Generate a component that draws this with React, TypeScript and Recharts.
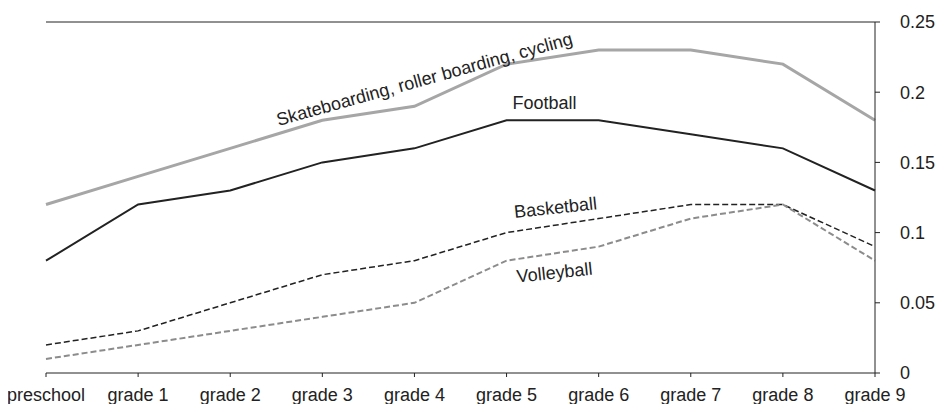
import { LineChart, Line, XAxis, YAxis, ReferenceLine } from "recharts";

const grades = ["preschool", "grade 1", "grade 2", "grade 3", "grade 4", "grade 5", "grade 6", "grade 7", "grade 8", "grade 9"];
const skating = [0.12, 0.14, 0.16, 0.18, 0.19, 0.22, 0.23, 0.23, 0.22, 0.18];
const football = [0.08, 0.12, 0.13, 0.15, 0.16, 0.18, 0.18, 0.17, 0.16, 0.13];
const basketball = [0.02, 0.03, 0.05, 0.07, 0.08, 0.1, 0.11, 0.12, 0.12, 0.09];
const volleyball = [0.01, 0.02, 0.03, 0.04, 0.05, 0.08, 0.09, 0.11, 0.12, 0.08];
const yTicks = [0, 0.05, 0.1, 0.15, 0.2, 0.25];

const FONT = "'Liberation Sans', Arial, sans-serif";
const INK = "#222";

const data = grades.map((g, i) => ({
    grade: g,
    skating: skating[i],
    football: football[i],
    basketball: basketball[i],
    volleyball: volleyball[i],
}));

// label drawn next to one point of a series, shifted and turned
function seriesLabel(text: string, atIndex: number, dx: number, dy: number, angle: number) {
    return (props: any) => {
        if (props.index !== atIndex) return null;
        const cx = props.x + dx;
        const cy = props.y + dy;
        return (
            <text
                x={cx}
                y={cy}
                textAnchor="middle"
                dominantBaseline="central"
                fontFamily={FONT}
                fontSize={18}
                fill={INK}
                transform={`rotate(${angle} ${cx} ${cy})`}
            >
                {text}
            </text>
        );
    };
}

export default function App() {
    return (
        <div style={{ margin: -8, width: 946, height: 412 }}>
            <LineChart width={946} height={412} data={data} margin={{ top: 22, right: 11, bottom: 9, left: 46 }}>
                <XAxis
                    dataKey="grade"
                    height={30}
                    tickSize={4}
                    tickMargin={11}
                    tick={{ fontSize: 18, fontFamily: FONT, fill: INK }}
                    axisLine={{ stroke: INK }}
                    tickLine={{ stroke: INK }}
                    interval={0}
                />
                <YAxis yAxisId="left" orientation="left" width={0} tick={false} tickLine={false} axisLine={{ stroke: INK }} domain={[0, 0.25]} />
                <YAxis
                    yAxisId="right"
                    orientation="right"
                    width={60}
                    domain={[0, 0.25]}
                    ticks={yTicks}
                    tickSize={5}
                    tickMargin={20}
                    tick={{ fontSize: 18, fontFamily: FONT, fill: INK, textAnchor: "start" }}
                    axisLine={{ stroke: INK }}
                    tickLine={{ stroke: INK }}
                />
                <ReferenceLine yAxisId="right" y={0.25} stroke={INK} strokeWidth={1} />
                <Line
                    yAxisId="right"
                    dataKey="skating"
                    type="linear"
                    stroke="#a6a6a6"
                    strokeWidth={3}
                    dot={false}
                    isAnimationActive={false}
                    label={seriesLabel("Skateboarding, roller boarding, cycling", 4, 10, -27, -15.5)}
                />
                <Line
                    yAxisId="right"
                    dataKey="football"
                    type="linear"
                    stroke={INK}
                    strokeWidth={2}
                    dot={false}
                    isAnimationActive={false}
                    label={seriesLabel("Football", 5, 38, -17, 0)}
                />
                <Line
                    yAxisId="right"
                    dataKey="basketball"
                    type="linear"
                    stroke={INK}
                    strokeWidth={1.5}
                    strokeDasharray="6 3"
                    dot={false}
                    isAnimationActive={false}
                    label={seriesLabel("Basketball", 5, 49, -25, -6)}
                />
                <Line
                    yAxisId="right"
                    dataKey="volleyball"
                    type="linear"
                    stroke="#8c8c8c"
                    strokeWidth={2}
                    strokeDasharray="6 3"
                    dot={false}
                    isAnimationActive={false}
                    label={seriesLabel("Volleyball", 5, 48, 12, -6)}
                />
            </LineChart>
        </div>
    );
}
